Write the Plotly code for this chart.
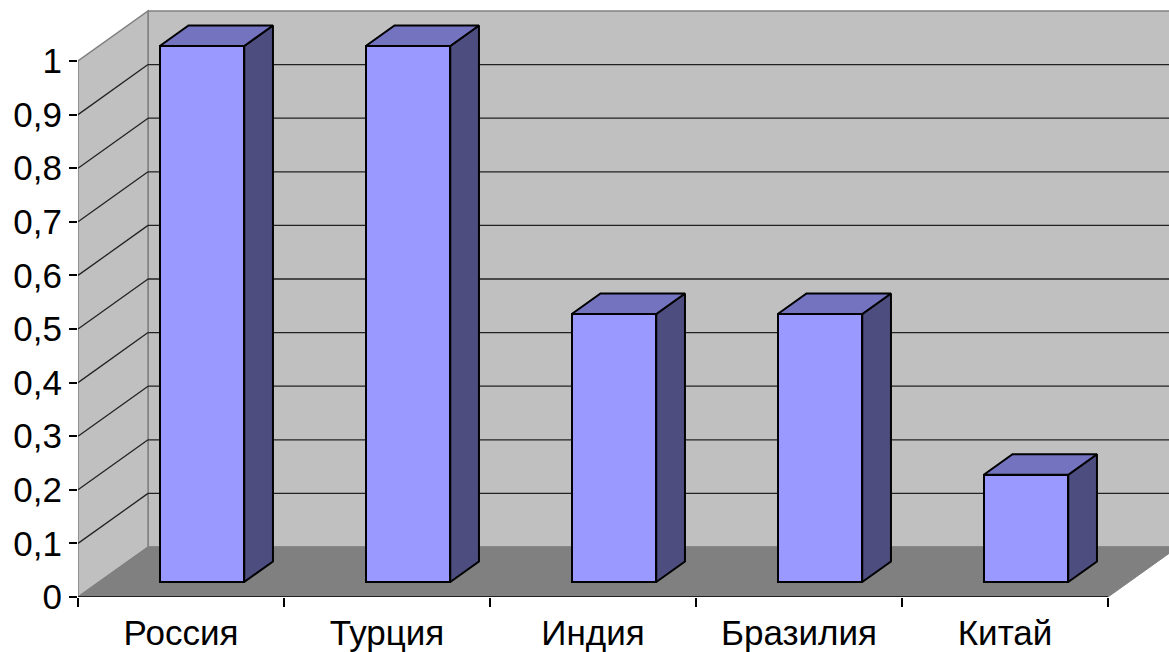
import plotly.graph_objects as go

# Data
categories = ["Россия", "Турция", "Индия", "Бразилия", "Китай"]
values = [1, 1, 0.5, 0.5, 0.2]
y_ticks = [0, 0.1, 0.2, 0.3, 0.4, 0.5, 0.6, 0.7, 0.8, 0.9, 1]

# Oblique projection of the depth axis, in axis units
DX = 0.34      # horizontal shift of the full depth (category units)
DY = 0.0933    # vertical shift of the full depth (value units)
BAR_D0 = 0.30  # depth fraction of the bar front face
BAR_DD = 0.41  # bar depth as a fraction of the full depth
BAR_W = 0.41   # bar width (category units)

FRONT = "#9999ff"
TOP = "#7373bf"
SIDE = "#4d4d80"
WALL = "#c0c0c0"
FLOOR = "#808080"
EDGE = "#808080"

n = len(categories)
centers = [i + 0.5 for i in range(n)]


def path(points):
    return "M " + " L ".join(f"{x},{y}" for x, y in points) + " Z"


shapes = []
# back wall
shapes.append(dict(type="path", xref="x", yref="y", layer="below",
                   path=path([(DX, DY), (n + DX + 1, DY), (n + DX + 1, 1 + DY), (DX, 1 + DY)]),
                   fillcolor=WALL, line=dict(color=EDGE, width=1.5)))
# side wall
shapes.append(dict(type="path", xref="x", yref="y", layer="below",
                   path=path([(0, 0), (0, 1), (DX, 1 + DY), (DX, DY)]),
                   fillcolor=WALL, line=dict(color=EDGE, width=1.5)))
# gridlines on walls
for v in y_ticks[1:-1]:
    shapes.append(dict(type="line", xref="x", yref="y", layer="below",
                       x0=DX, y0=v + DY, x1=n + DX + 1, y1=v + DY,
                       line=dict(color="#222222", width=1.3)))
    shapes.append(dict(type="line", xref="x", yref="y", layer="below",
                       x0=0, y0=v, x1=DX, y1=v + DY,
                       line=dict(color="#222222", width=1.3)))
# floor
shapes.append(dict(type="path", xref="x", yref="y", layer="below",
                   path=path([(0, 0), (n, 0), (n + DX, DY), (DX, DY)]),
                   fillcolor=FLOOR, line=dict(color=EDGE, width=1)))
# category axis line
shapes.append(dict(type="line", xref="x", yref="y", layer="below",
                   x0=0, y0=0, x1=n, y1=0, line=dict(color="black", width=1.5)))

fig = go.Figure()

# front faces of the columns
fig.add_trace(go.Bar(
    x=[c + BAR_D0 * DX for c in centers], y=values, base=BAR_D0 * DY,
    width=BAR_W, marker=dict(color=FRONT, line=dict(color="black", width=2)),
    hovertext=categories, hoverinfo="text+y", showlegend=False,
))

# side and top faces of the columns
for c, v, name in zip(centers, values, categories):
    x0 = c - BAR_W / 2 + BAR_D0 * DX
    x1 = x0 + BAR_W
    y0 = BAR_D0 * DY
    y1 = v + BAR_D0 * DY
    ddx, ddy = BAR_DD * DX, BAR_DD * DY
    fig.add_trace(go.Scatter(
        x=[x1, x1 + ddx, x1 + ddx, x1, x1], y=[y0, y0 + ddy, y1 + ddy, y1, y0],
        mode="lines", fill="toself", fillcolor=SIDE,
        line=dict(color="black", width=2), hoverinfo="skip", showlegend=False))
    fig.add_trace(go.Scatter(
        x=[x0, x1, x1 + ddx, x0 + ddx, x0], y=[y1, y1, y1 + ddy, y1 + ddy, y1],
        mode="lines", fill="toself", fillcolor=TOP,
        line=dict(color="black", width=2), hoverinfo="skip", showlegend=False))

fig.update_layout(
    width=1169, height=652,
    margin=dict(l=78, r=0, t=0, b=55),
    paper_bgcolor="white", plot_bgcolor="white",
    separators=", ",
    font=dict(family="Liberation Sans, Arial, sans-serif", size=35, color="black"),
    bargap=0,
    shapes=shapes,
)
fig.update_xaxes(
    range=[0, 1091 / 206], showgrid=False, zeroline=False, showline=False,
    tickmode="array", tickvals=centers, ticktext=categories, ticks="",
    ticklabelstandoff=12,
    minor=dict(tickmode="array", tickvals=list(range(n + 1)), ticks="outside",
               ticklen=9, tickcolor="black", tickwidth=1.5),
    fixedrange=True,
)
fig.update_yaxes(
    range=[0, 597 / 536], showgrid=False, zeroline=False, showline=False,
    tickmode="array", tickvals=y_ticks, ticks="outside", ticklen=8,
    tickcolor="black", tickwidth=1.5, fixedrange=True,
)

fig.write_html("out.html")
